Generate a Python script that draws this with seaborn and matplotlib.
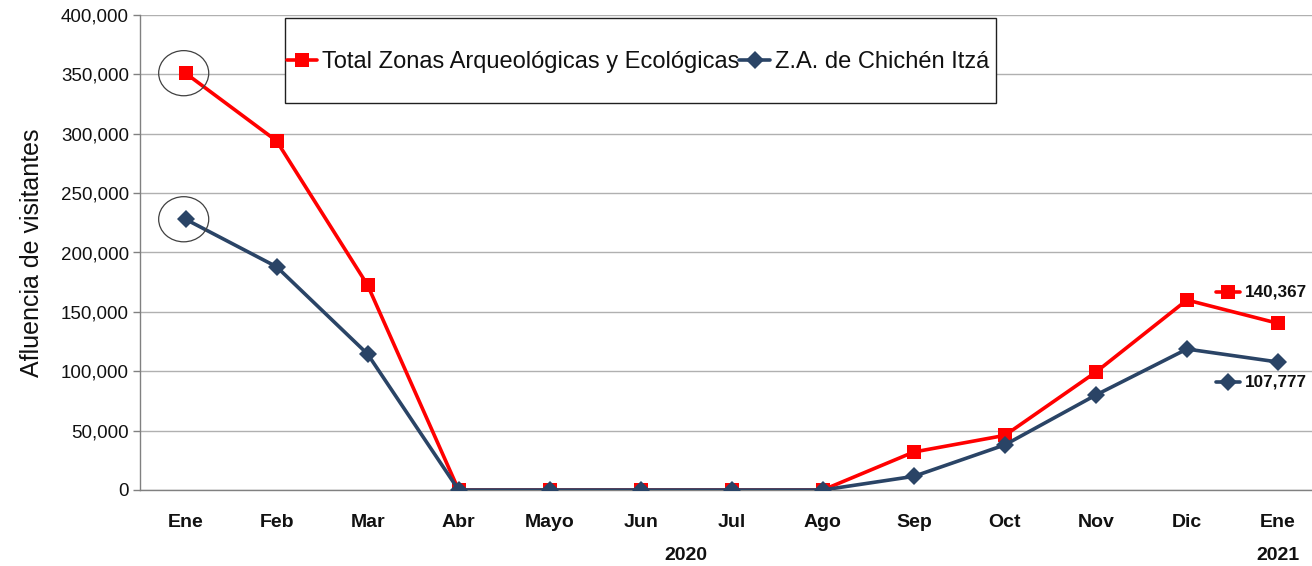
import matplotlib
matplotlib.use("Agg")
import matplotlib.pyplot as plt
import matplotlib.transforms as mtransforms
from matplotlib.patches import Rectangle, Ellipse
import seaborn as sns
import pandas as pd

months = ["Ene", "Feb", "Mar", "Abr", "Mayo", "Jun", "Jul", "Ago", "Sep", "Oct", "Nov", "Dic", "Ene"]
total_zonas = [351000, 294000, 172500, 0, 0, 0, 0, 0, 32000, 46000, 99300, 160000, 140367]
chichen = [228000, 188000, 114500, 0, 0, 0, 0, 0, 11500, 38000, 80000, 118700, 107777]
name_total = "Total Zonas Arqueológicas y Ecológicas"
name_chichen = "Z.A. de Chichén Itzá"
years = ["2020", "2021"]

RED = "#FF0000"
NAVY = "#2A4466"

sns.set_theme(style="white")
plt.rcParams["font.family"] = ["Liberation Sans", "DejaVu Sans"]
plt.rcParams["text.color"] = "black"
plt.rcParams["axes.labelcolor"] = "black"
plt.rcParams["xtick.color"] = "black"
plt.rcParams["ytick.color"] = "black"

fig = plt.figure(figsize=(13.12, 5.66), dpi=100)
ax = fig.add_axes([140 / 1312, 76 / 566, 1 - 140 / 1312, 475 / 566])

idx = list(range(len(months)))
df = pd.DataFrame({"x": idx, "total": total_zonas, "chichen": chichen})

sns.lineplot(data=df, x="x", y="total", ax=ax, color=RED, linewidth=2.6,
             marker="s", markersize=10, markeredgewidth=0, label=name_total, zorder=3)
sns.lineplot(data=df, x="x", y="chichen", ax=ax, color=NAVY, linewidth=2.6,
             marker="D", markersize=9, markeredgewidth=0, label=name_chichen, zorder=4)

ax.set_ylim(0, 400000)
ax.set_xlim(-0.5, (1312 - 186) / 91)
ax.set_yticks(range(0, 400001, 50000))
ax.set_yticklabels([f"{v:,}" for v in range(0, 400001, 50000)], fontsize=13.5, color="#111111")
ax.set_xticks(idx)
ax.set_xticklabels(months, fontsize=14, fontweight="bold", color="#111111")
ax.tick_params(axis="x", length=0, pad=17)
ax.tick_params(axis="y", length=5, width=1, color="#808080", pad=3, direction="out", left=True)
ax.set_xlabel("")
ax.set_ylabel("Afluencia de visitantes", fontsize=18, labelpad=12, color="#111111")

ax.grid(axis="y", color="#B0B0B0", linewidth=1)
ax.grid(axis="x", visible=False)
for s in ["top", "right"]:
    ax.spines[s].set_visible(False)
for s in ["left", "bottom"]:
    ax.spines[s].set_color("#808080")
    ax.spines[s].set_linewidth(1)

# legend box
ax.get_legend().remove()
box = Rectangle((0.1237, 0.815), 0.730 - 0.1237, 0.9937 - 0.815, transform=ax.transAxes,
                fill=True, facecolor="white", edgecolor="#202020", linewidth=1, zorder=5)
ax.add_patch(box)
handles, labels = ax.get_legend_handles_labels()
leg = ax.legend(handles, labels, loc="center left", bbox_to_anchor=(0.125, 0.901), ncol=2,
                frameon=False, fontsize=17, handlelength=1.3, handletextpad=0.2,
                columnspacing=0.0, borderaxespad=0, borderpad=0, labelcolor="#111111")
leg.set_zorder(6)

# circles around first points
for val in (total_zonas[0], chichen[0]):
    e = Ellipse((idx[0] - 0.02, val), width=0.55, height=38000, fill=False,
                edgecolor="#404040", linewidth=0.9, zorder=6)
    ax.add_patch(e)

# right-side value labels
last = idx[-1]
for val, off, col, mk, ms in ((total_zonas[-1], 26000, RED, "s", 10), (chichen[-1], -17000, NAVY, "D", 9)):
    y = val + off
    ax.plot([last - 0.68, last - 0.42], [y, y], color=col, linewidth=2.6, clip_on=False)
    ax.plot([last - 0.55], [y], marker=mk, color=col, markersize=ms, markeredgewidth=0, clip_on=False)
    ax.text(last - 0.36, y, f"{val:,}", fontsize=12.3, fontweight="bold", va="center", ha="left",
            color="#111111")

# year labels
blend = mtransforms.blended_transform_factory(ax.transData, fig.transFigure)
ax.text((idx[0] + idx[-2]) / 2, 10 / 566, years[0], transform=blend, ha="center", va="center",
        fontsize=14, fontweight="bold", color="#111111")
ax.text(idx[-1], 10 / 566, years[1], transform=blend, ha="center", va="center",
        fontsize=14, fontweight="bold", color="#111111")

fig.savefig("out.png", dpi=100)
